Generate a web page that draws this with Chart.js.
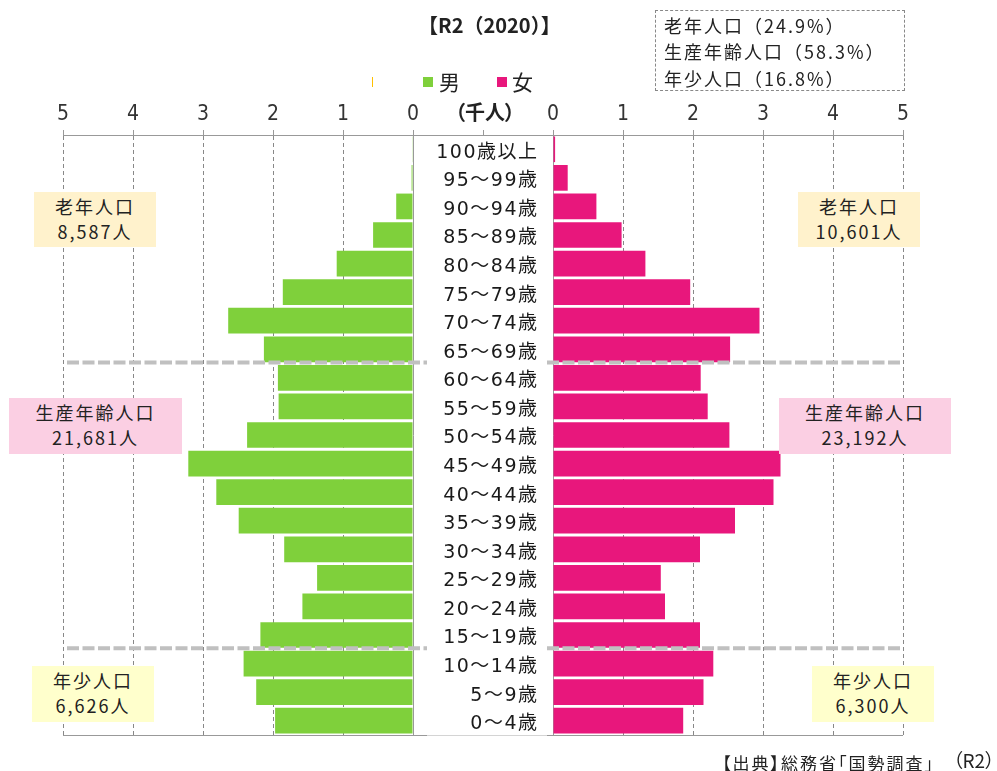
<!DOCTYPE html>
<html lang="ja">
<head>
<meta charset="utf-8">
<title>人口ピラミッド R2（2020）</title>
<script src="https://cdn.jsdelivr.net/npm/chart.js@4/dist/chart.umd.min.js"></script>
<style>
  html, body { margin: 0; padding: 0; background: #fff; }
  #page { position: relative; width: 997px; height: 771px; overflow: hidden;
          font-family: 'Noto Sans CJK JP', sans-serif; color: #222; }
  canvas { position: absolute; left: 0; top: 0; }
  .t { position: absolute; line-height: 1; white-space: nowrap; z-index: 2; }
  .sq { position: absolute; width: 10px; height: 10px; z-index: 2; }
  .note { position: absolute; z-index: 2; text-align: center; font-size: 18px;
          letter-spacing: 2px; line-height: 25px; padding-top: 2px; box-sizing: border-box; }
  #ratio { position: absolute; left: 655px; top: 10px; width: 250px; height: 81px;
           border: 1px dashed #888; box-sizing: border-box; z-index: 2; }
  #ratio div { position: absolute; left: 8px; font-size: 18px; letter-spacing: 2px; line-height: 1; white-space: nowrap; }
</style>
</head>
<body>
<div id="page">
  <canvas id="chartHommes" width="997" height="771"></canvas>
  <canvas id="chartFemmes" width="997" height="771"></canvas>

  <div class="t" style="left:418px; top:15px; font-size:20px; font-weight:bold;">【R2（2020）】</div>

  <!-- légende -->
  <div class="sq" style="left:372px; top:77px; width:1px; background:#FFC000;"></div>
  <div class="sq" style="left:423px; top:77px; background:#7FD03B;"></div>
  <div class="t" style="left:439px; top:71px; font-size:21px;">男</div>
  <div class="sq" style="left:497px; top:77px; background:#E8177C;"></div>
  <div class="t" style="left:512px; top:71px; font-size:21px;">女</div>
  <div class="t" style="left:455px; top:102px; font-size:20px; font-weight:bold; font-feature-settings:'palt';">（千人）</div>

  <div id="ratio">
    <div style="top:5px;">老年人口（24.9%）</div>
    <div style="top:31px;">生産年齢人口（58.3%）</div>
    <div style="top:58px;">年少人口（16.8%）</div>
  </div>

  <!-- encadrés par tranche -->
  <div class="note" style="left:34px; top:192px; width:122px; height:55px; background:#FFF2CC;">老年人口<br>8,587人</div>
  <div class="note" style="left:798px; top:192px; width:122px; height:55px; background:#FFF2CC;">老年人口<br>10,601人</div>
  <div class="note" style="left:9px; top:398px; width:173px; height:56px; background:#FBCFE3;">生産年齢人口<br>21,681人</div>
  <div class="note" style="left:779px; top:398px; width:172px; height:56px; background:#FBCFE3;">生産年齢人口<br>23,192人</div>
  <div class="note" style="left:32px; top:666px; width:122px; height:56px; background:#FFFFCC;">年少人口<br>6,626人</div>
  <div class="note" style="left:812px; top:666px; width:122px; height:56px; background:#FFFFCC;">年少人口<br>6,300人</div>

  <div class="t" style="left:722px; top:754px; font-size:17px; font-feature-settings:'palt'; letter-spacing:2px;">【出典】総務省「国勢調査」</div>
  <div class="t" style="left:953px; top:750px; font-size:19px; font-feature-settings:'palt';">（R2）</div>
</div>

<script>
// ── Données (milliers de personnes) ─────────────────────────
const tranches = ['100歳以上', '95〜99歳', '90〜94歳', '85〜89歳', '80〜84歳', '75〜79歳',
                  '70〜74歳', '65〜69歳', '60〜64歳', '55〜59歳', '50〜54歳', '45〜49歳',
                  '40〜44歳', '35〜39歳', '30〜34歳', '25〜29歳', '20〜24歳', '15〜19歳',
                  '10〜14歳', '5〜9歳', '0〜4歳'];
const hommes = [0.01, 0.02, 0.24, 0.57, 1.09, 1.86, 2.64, 2.13, 1.93, 1.92, 2.37,
                3.21, 2.81, 2.49, 1.84, 1.37, 1.58, 2.18, 2.42, 2.24, 1.97];
const femmes = [0.03, 0.21, 0.62, 0.98, 1.32, 1.96, 2.95, 2.53, 2.11, 2.21, 2.52,
                3.25, 3.15, 2.60, 2.10, 1.54, 1.60, 2.10, 2.29, 2.15, 1.86];
const graduations = [0, 1, 2, 3, 4, 5];
// limites entre groupes : 65歳以上 / 15〜64歳 / 0〜14歳
const separations = [7, 17];

const VERT = '#7FD03B';
const ROSE = '#E8177C';
const policeTicks = { family: "'Liberation Sans Narrow', 'DejaVu Sans Condensed', 'Noto Sans CJK JP', sans-serif", size: 21 };

/* ── Options communes ───────────────────────────────────── */
function optionsPyramide(inverse, padding, posY) {
    return {
        indexAxis: 'y',
        responsive: false,
        animation: false,
        layout: { padding },
        plugins: { legend: { display: false }, tooltip: { enabled: false } },
        scales: {
            x: {
                position: 'top',
                reverse: inverse,
                min: 0,
                max: 5,
                afterBuildTicks: s => { s.ticks = graduations.map(v => ({ value: v })); },
                afterFit: s => { s.height = 40; },
                ticks: { font: policeTicks, color: '#333', padding: 3 },
                grid: { color: '#888', tickColor: '#999', tickLength: 5, tickBorderDash: [] },
                border: { color: '#999', dash: [4, 3] }
            },
            y: {
                position: posY,
                afterFit: s => { s.width = 0; },
                ticks: { display: false },
                grid: { drawOnChartArea: false, drawTicks: false },
                border: { color: '#999' }
            }
        }
    };
}

/* ── Décor central : axe, lignes de séparation, libellés ── */
const decorCentral = {
    id: 'decorCentral',
    afterDatasetsDraw(chart) {
        const { ctx, chartArea } = chart;
        const y = chart.scales.y;
        const haut = chartArea.top, bas = chartArea.bottom;
        ctx.save();

        // prolongement de l'axe supérieur + graduation centrale
        ctx.strokeStyle = '#999';
        ctx.lineWidth = 1;
        ctx.beginPath();
        ctx.moveTo(413, haut + 0.5); ctx.lineTo(553, haut + 0.5);
        ctx.moveTo(483.5, haut - 5); ctx.lineTo(483.5, haut);
        ctx.stroke();

        // ligne du bas
        ctx.strokeStyle = '#d4d4d4';
        ctx.beginPath(); ctx.moveTo(63, bas + 0.5); ctx.lineTo(903, bas + 0.5); ctx.stroke();
        ctx.strokeStyle = '#999';
        ctx.beginPath();
        ctx.moveTo(63, bas + 0.5); ctx.lineTo(427, bas + 0.5);
        ctx.moveTo(547, bas + 0.5); ctx.lineTo(903, bas + 0.5);
        ctx.stroke();

        // séparations en pointillés épais
        ctx.strokeStyle = '#C0C0C0';
        ctx.lineWidth = 4;
        ctx.setLineDash([12, 3.5]);
        separations.forEach(i => {
            const ys = (y.getPixelForValue(i) + y.getPixelForValue(i + 1)) / 2 - 1;
            ctx.beginPath();
            ctx.moveTo(67, ys); ctx.lineTo(427, ys);
            ctx.moveTo(547, ys); ctx.lineTo(903, ys);
            ctx.stroke();
        });
        ctx.setLineDash([]);

        // libellés des tranches d'âge
        ctx.fillStyle = '#1a1a1a';
        ctx.font = "19px 'DejaVu Sans', 'Noto Sans CJK JP', sans-serif";
        ctx.letterSpacing = '1.5px';
        ctx.textAlign = 'right';
        ctx.textBaseline = 'middle';
        tranches.forEach((lib, i) => {
            ctx.fillText(lib, 538.5, y.getPixelForValue(i) + 3.5);
        });
        ctx.restore();
    }
};

/* ── Graphiques ─────────────────────────────────────────── */
new Chart(document.getElementById('chartHommes'), {
    type: 'bar',
    data: {
        labels: tranches,
        datasets: [{ label: '男', data: hommes, backgroundColor: VERT,
                     barPercentage: 0.9, categoryPercentage: 1 }]
    },
    options: optionsPyramide(true, { left: 63, right: 584, top: 95, bottom: 36 }, 'right')
});

new Chart(document.getElementById('chartFemmes'), {
    type: 'bar',
    data: {
        labels: tranches,
        datasets: [{ label: '女', data: femmes, backgroundColor: ROSE,
                     barPercentage: 0.9, categoryPercentage: 1 }]
    },
    options: optionsPyramide(false, { left: 553, right: 94, top: 95, bottom: 36 }, 'left'),
    plugins: [decorCentral]
});
</script>
</body>
</html>
